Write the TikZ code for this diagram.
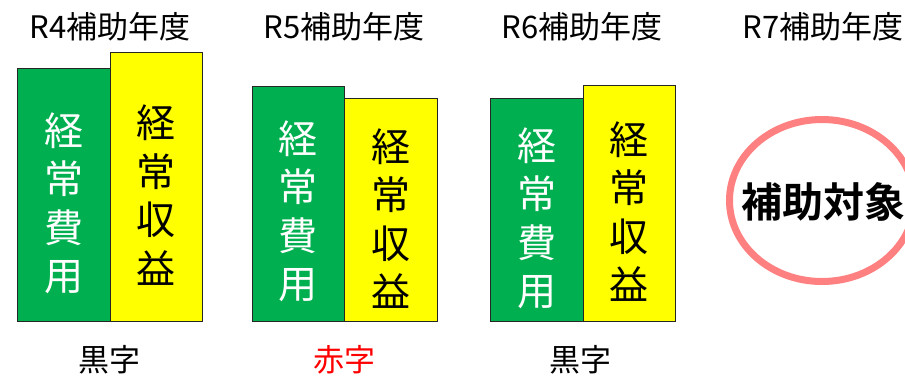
\documentclass[tikz,border=0pt]{standalone}
\usepackage{fontspec}
\setmainfont{Noto Sans CJK JP}
\newfontfamily\jpb{Noto Sans CJK JP Bold}
\definecolor{bargreen}{HTML}{00B050}
\definecolor{baryellow}{HTML}{FFFF00}
\definecolor{ringred}{HTML}{FF8080}
\definecolor{textred}{HTML}{FF0000}
\tikzset{
  bar/.style={draw=black!85, line width=0.9pt, inner sep=0pt},
  title/.style={font=\fontsize{31}{33}\selectfont, inner sep=0pt, anchor=center},
  vtext/.style={align=center, inner sep=0pt, font=\fontsize{39}{48.5}\selectfont},
  bottomlabel/.style={font=\fontsize{31}{33}\selectfont, inner sep=0pt}
}
\begin{document}
\begin{tikzpicture}[x=1pt,y=-1pt]
\useasboundingbox (0,0) rectangle (905,376);
% titles
\node[title] (t4) at (110,27) {R4補助年度};
\node[title] (t5) at (344,27) {R5補助年度};
\node[title] (t6) at (582,27) {R6補助年度};
\node[title] (t7) at (823,27) {R7補助年度};
% R4
\path[bar, fill=bargreen] (17,68) rectangle (110,321);
\path[bar, fill=baryellow] (110,52) rectangle (202,321);
\node[vtext, text=white] (g4) at (63.5,203.5) {経\\常\\費\\用};
\node[vtext, text=black] (y4) at (156,195) {経\\常\\収\\益};
% R5
\path[bar, fill=bargreen] (252,86) rectangle (344,321);
\path[bar, fill=baryellow] (344,98) rectangle (437,321);
\node[vtext, text=white] (g5) at (298,211.5) {経\\常\\費\\用};
\node[vtext, text=black] (y5) at (390.5,218.5) {経\\常\\収\\益};
% R6
\path[bar, fill=bargreen] (490,98) rectangle (583,321);
\path[bar, fill=baryellow] (583,85) rectangle (675,321);
\node[vtext, text=white] (g6) at (536.5,218.5) {経\\常\\費\\用};
\node[vtext, text=black] (y6) at (629,211.5) {経\\常\\収\\益};
% R7
\draw[ringred, line width=7pt] (822,200.5) ellipse [x radius=92.5, y radius=81];
\node[inner sep=0pt, font=\jpb\fontsize{41}{43}\selectfont] (sub) at (823,202) {補助対象};
% bottom labels
\node[bottomlabel] (b4) at (109,360) {黒字};
\node[bottomlabel, text=textred] (b5) at (344,360) {赤字};
\node[bottomlabel] (b6) at (580,360) {黒字};
\end{tikzpicture}
\end{document}
